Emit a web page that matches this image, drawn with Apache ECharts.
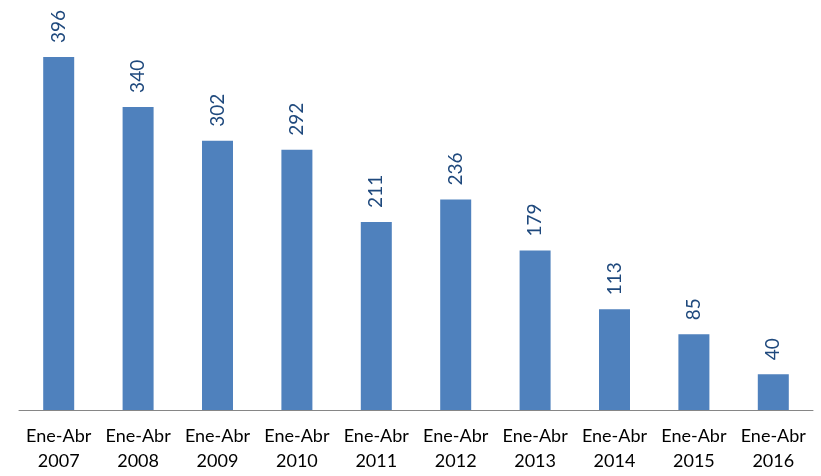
<!DOCTYPE html>
<html><head><meta charset="utf-8">
<script src="https://cdn.jsdelivr.net/npm/echarts@6/dist/echarts.min.js"></script>
<style>html,body{margin:0;padding:0;background:#fff}#c{width:821px;height:476px}</style>
</head><body><div id="c"></div>
<script>
const categories = ['Ene-Abr\n2007','Ene-Abr\n2008','Ene-Abr\n2009','Ene-Abr\n2010','Ene-Abr\n2011','Ene-Abr\n2012','Ene-Abr\n2013','Ene-Abr\n2014','Ene-Abr\n2015','Ene-Abr\n2016'];
const values = [396,340,302,292,211,236,179,113,85,40];
const chart = echarts.init(document.getElementById('c'));
chart.setOption({
  animation:false,
  grid:{left:19,right:8,top:53.4,bottom:66},
  xAxis:{type:'category',data:categories,
    axisLine:{lineStyle:{color:'#868686'}},
    axisTick:{length:5,lineStyle:{color:'#868686'}},
    axisLabel:{color:'#000',fontFamily:'Lato',fontSize:18,lineHeight:25,margin:14,interval:0}},
  yAxis:{type:'value',min:0,max:400,show:false,splitLine:{show:false}},
  series:[{type:'bar',data:values,barWidth:31,
    itemStyle:{color:'#4F81BD'},
    label:{show:true,position:'top',rotate:90,distance:14,align:'left',verticalAlign:'middle',
      color:'#1F497D',fontFamily:'Lato',fontSize:19}}]
});
</script></body></html>
